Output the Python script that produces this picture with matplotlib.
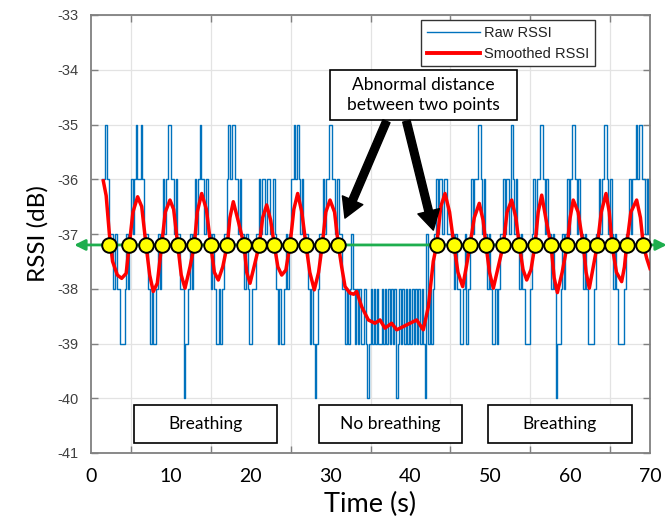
import numpy as np
import matplotlib
matplotlib.use("Agg")
import matplotlib.pyplot as plt
from matplotlib.patches import Rectangle
from matplotlib.lines import Line2D

plt.rcParams['axes.unicode_minus'] = False

# ---------------- data ----------------
# Raw RSSI: integer samples every 0.2 s starting at 1.4 s.
# digit d -> -(30+d) dB, '0' -> -40 dB
raw_start = 1.4
raw_step = 0.2
raw_codes = [
    "66567", "778788999878", "7676566567", "7789899878", "76765566767",
    "7880998787", "6765667677", "8789989877", "6565566767", "7878998877",
    "6766766776", "7898998787", "6656567677", "7898909877", "6766556676",
    "7788989878", "9898998909", "8989899898", "9898980989", "8989898989",
    "8989079898", "7676676677", "7787889987", "9876766556", "7678789989",
    "8776766756", "7678788999", "8767665567", "6778780998", "7876765567",
    "6778789999", "8776765567", "6787899998", "7767665655", "667678",
]

# Smoothed RSSI (time s, value dB)
smooth_t = [1.54, 1.9, 2.3, 2.7, 3.3, 3.84, 4.4, 4.80, 5.25, 5.84, 6.35, 6.89, 7.35, 7.80,
            8.3, 8.85, 9.3, 9.89, 10.35, 10.86, 11.3, 11.77, 12.4, 12.94, 13.3, 13.86,
            14.45, 14.99, 15.45, 15.94, 16.5, 17.07, 17.4, 17.82, 18.5, 19.16, 19.5, 19.91,
            20.5, 21.07, 21.5, 22.0, 22.5, 22.95, 23.4, 23.88, 24.4, 24.92, 25.4, 25.88,
            26.4, 26.92, 27.4, 27.96, 28.5, 28.96, 29.4, 29.93, 30.5, 30.97, 31.39, 31.81,
            32.43, 32.9, 33.27, 33.90, 34.73, 35.56, 36.19, 36.81, 37.65, 38.28, 39.11,
            39.95, 40.78, 41.61, 42.24, 42.86, 43.29, 43.8, 44.33, 44.9, 45.45, 45.95,
            46.54, 47.0, 47.46, 48.0, 48.62, 49.1, 49.46, 49.9, 50.38, 51.0, 51.63, 52.1,
            52.68, 53.2, 53.63, 54.1, 54.56, 55.1, 55.60, 56.0, 56.44, 57.0, 57.60, 58.0,
            58.4, 59.0, 59.64, 60.0, 60.39, 61.0, 61.64, 62.0, 62.40, 62.9, 63.40, 63.9,
            64.49, 64.9, 65.24, 65.8, 66.45, 66.8, 67.08, 67.6, 68.33, 68.8, 69.16, 69.6,
            70.0]
smooth_v = [-36.03, -36.3, -37.0, -37.5, -37.75, -37.81, -37.72, -37.2, -36.6, -36.32, -36.5,
            -37.2, -37.75, -38.05, -37.9, -37.2, -36.6, -36.38, -36.55, -37.2, -37.75, -37.99,
            -37.6, -37.2, -36.6, -36.26, -36.55, -37.2, -37.7, -37.84, -37.6, -37.2, -36.7,
            -36.41, -36.8, -37.2, -37.7, -37.90, -37.55, -37.2, -36.7, -36.47, -36.75, -37.2,
            -37.6, -37.75, -37.66, -37.2, -36.55, -36.26, -36.6, -37.2, -37.7, -38.02, -37.7,
            -37.2, -36.6, -36.38, -36.6, -37.2, -37.6, -37.96, -38.08, -38.1, -38.05, -38.33,
            -38.57, -38.63, -38.57, -38.72, -38.63, -38.75, -38.69, -38.63, -38.57, -38.75,
            -38.33, -37.5, -37.2, -36.5, -36.26, -36.6, -37.2, -37.7, -37.96, -37.6, -37.2,
            -36.7, -36.44, -36.75, -37.2, -37.7, -37.99, -37.6, -37.2, -36.6, -36.38, -36.7,
            -37.2, -37.65, -37.84, -37.65, -37.2, -36.6, -36.29, -36.75, -37.2, -37.8, -38.07,
            -37.7, -37.2, -36.7, -36.38, -36.6, -37.2, -37.7, -37.99, -37.6, -37.2, -36.6,
            -36.26, -36.6, -37.2, -37.7, -37.87, -37.6, -37.2, -36.6, -36.38, -36.7, -37.2,
            -37.45, -37.63]

# crossing points with the threshold line
cross_t = [2.25, 4.80, 6.89, 8.85, 10.86, 12.94, 14.99, 17.07, 19.16, 21.07, 22.95, 24.92,
           26.92, 28.96, 30.97, 43.29, 45.45, 47.46, 49.46, 51.63, 53.63, 55.60, 57.60,
           59.64, 61.64, 63.40, 65.24, 67.08, 69.16]
threshold = -37.2

x_labels = [0, 10, 20, 30, 40, 50, 60, 70]
x_grid = [5, 15, 25, 35, 45, 55, 65]
y_ticks = [-41, -40, -39, -38, -37, -36, -35, -34, -33]

box_labels = ["Breathing", "No breathing", "Breathing"]
annot_text = "Abnormal distance\nbetween two points"

# ---------------- decode raw ----------------
raw_str = "".join(raw_codes)
raw_v = np.array([-40 if c == '0' else -(30 + int(c)) for c in raw_str], dtype=float)
raw_t = raw_start + raw_step * np.arange(len(raw_v))

# ---------------- figure ----------------
fig = plt.figure(figsize=(6.72, 5.21), dpi=100)
ax = fig.add_axes([91/672, 1 - 453/521, 559/672, 438/521])

ax.plot(raw_t, raw_v, color='#0072BD', lw=1.0, drawstyle='steps-post', zorder=2)
ax.plot(smooth_t, smooth_v, color='#FF0000', lw=2.5, zorder=3)

# threshold double arrow
ax.annotate('', xy=(-2.1, threshold), xytext=(72.1, threshold),
            xycoords='data', textcoords='data', annotation_clip=False,
            arrowprops=dict(arrowstyle='<|-|>', color='#1EAE4E', lw=2.0,
                            mutation_scale=16, shrinkA=0, shrinkB=0), zorder=4)
ax.plot(cross_t, [threshold] * len(cross_t), 'o', ms=10.5, mfc='#FFFF00', mec='black',
        mew=1.4, zorder=5, clip_on=False)

ax.set_xlim(0, 70)
ax.set_ylim(-41, -33)

# ticks & grid
ax.set_yticks(y_ticks)
ax.set_yticklabels([str(v) for v in y_ticks], fontfamily='Liberation Sans', fontsize=10.5,
                   color='#404040')
ax.set_xticks(x_grid)
ax.set_xticklabels([''] * len(x_grid))
ax.set_xticks(x_labels, minor=True)
ax.set_xticklabels([str(v) for v in x_labels], minor=True, fontfamily='Lato', fontsize=14)
ax.tick_params(axis='x', which='minor', length=0, pad=11)
ax.tick_params(axis='both', which='major', direction='in', length=5, color='#808080',
               top=True, right=True, width=1.0)
ax.tick_params(axis='y', pad=9)
ax.grid(True, which='major', color='#e3e3e3', lw=0.9)
ax.set_axisbelow(True)
for s in ax.spines.values():
    s.set_color('#808080')
    s.set_linewidth(1.3)

ax.set_xlabel("Time (s)", fontfamily='Lato', fontsize=19.5, labelpad=5)
ax.set_ylabel("RSSI (dB)", fontfamily='Lato', fontsize=17.5, labelpad=6)

# legend
handles = [Line2D([], [], color='#0072BD', lw=1.0), Line2D([], [], color='#FF0000', lw=2.8)]
leg = ax.legend(handles, ["Raw RSSI", "Smoothed RSSI"], loc='upper left',
                bbox_to_anchor=(0.591, 0.988), prop={'family': 'Liberation Sans', 'size': 10.5},
                frameon=True, fancybox=False, framealpha=1, edgecolor='#333333',
                handlelength=3.6, handletextpad=0.3, borderpad=0.4, labelspacing=0.45,
                borderaxespad=0)
leg.get_frame().set_linewidth(1.0)
for t in leg.get_texts():
    t.set_color('#222222')

# bottom boxes
box_x = [(134, 277), (319, 462), (488, 632)]
for (x0, x1), lab in zip(box_x, box_labels):
    fx0 = (x0 - 91) / 559
    fw = (x1 - x0) / 559
    fy0 = (453 - 443) / 438
    fh = (443 - 405) / 438
    ax.add_patch(Rectangle((fx0, fy0), fw, fh, transform=ax.transAxes, fc='white',
                           ec='black', lw=1.2, zorder=6))
    ax.text(fx0 + fw / 2, fy0 + fh / 2, lab, transform=ax.transAxes, ha='center',
            va='center', fontfamily='Lato', fontsize=12.5, zorder=7)

# annotation box
ax0, ax1, ay0, ay1 = 330, 517, 70, 120
fx0 = (ax0 - 91) / 559
fw = (ax1 - ax0) / 559
fy0 = (453 - ay1) / 438
fh = (ay1 - ay0) / 438
ax.add_patch(Rectangle((fx0, fy0), fw, fh, transform=ax.transAxes, fc='white',
                       ec='black', lw=1.2, zorder=6))
ax.text(fx0 + fw / 2, fy0 + fh / 2, annot_text, transform=ax.transAxes, ha='center',
        va='center', fontfamily='Lato', fontsize=12.5, linespacing=1.25, zorder=7)

# arrows
arrow_kw = dict(arrowstyle='simple,head_width=1.6,head_length=1.4,tail_width=0.55',
                color='black', mutation_scale=10, shrinkA=0, shrinkB=0)
ax.annotate('', xy=(31.8, -36.71), xytext=(37.0, -34.94), arrowprops=arrow_kw, zorder=8)
ax.annotate('', xy=(42.87, -36.93), xytext=(39.5, -34.94), arrowprops=arrow_kw, zorder=8)

fig.savefig("out.png", dpi=100)
